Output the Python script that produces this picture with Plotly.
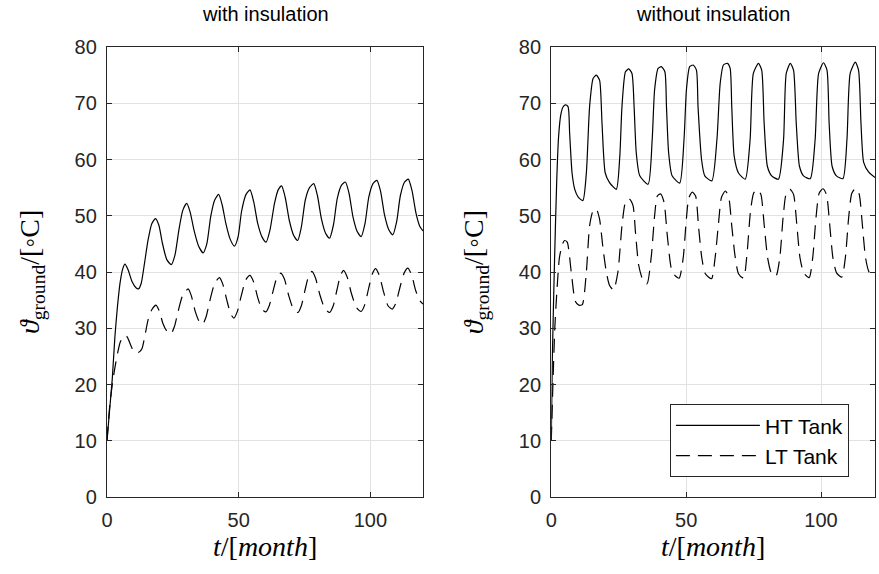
import plotly.graph_objects as go
from plotly.subplots import make_subplots

# with insulation - HT tank
t_ins_ht = [0, 1, 2, 3, 4, 5, 6, 6.8, 8, 9.5, 11, 12, 13, 14, 15.6, 17, 18.4, 19.7, 21, 22.7,
            24.4, 25.8, 27.3, 28.8, 30.3, 31.6, 33, 34.8, 36.5, 37.9, 39.4, 40.9, 42.4, 43.7, 45.1,
            46.8, 48.4, 49.8, 51.1, 52.8, 54.3, 55.7, 57.2, 58.9, 60.4, 61.9, 63.6, 65, 66.3, 67.7,
            69.2, 70.9, 72.4, 73.8, 75.3, 76.9, 78.5, 79.9, 81.4, 83, 84.5, 86, 87.4, 89, 90.5,
            91.9, 93.4, 95, 96.5, 98, 99.4, 101, 102.5, 103.9, 105.4, 107, 108.5, 110, 111.4, 113,
            114.4, 115.8, 117.3, 118.7, 120]
v_ins_ht = [10, 15.5, 21, 28.5, 34, 38.2, 40.6, 41.4, 40.4, 38.3, 37.2, 37.0, 38.0, 40.8, 45.7,
            48.6, 49.5, 48.3, 45.2, 42.2, 41.3, 43.0, 47.5, 51.0, 52.2, 50.6, 47.5, 44.6, 43.4,
            45.0, 49.9, 52.8, 53.8, 52.0, 48.7, 45.8, 44.6, 46.3, 50.8, 53.8, 54.6, 52.5, 48.7,
            46.2, 45.3, 47.5, 52.2, 54.6, 55.3, 53.2, 49.2, 46.5, 45.6, 48.0, 52.8, 55.0, 55.7,
            53.6, 49.5, 46.9, 46.0, 48.4, 53.0, 55.4, 56.0, 54.0, 49.8, 47.2, 46.3, 48.7, 53.3,
            55.7, 56.3, 54.3, 50.1, 47.5, 46.6, 49.0, 53.6, 56.0, 56.5, 54.5, 50.5, 48.2, 47.3]

# with insulation - LT tank
t_ins_lt = [0, 1, 2, 3, 4, 5, 6.3, 7.6, 9, 10.2, 11.2, 12.3, 13.3, 14.6, 15.6, 17, 18.6, 19.9,
            21.2, 22.7, 24.3, 25.6, 27, 28.7, 30.8, 32, 33.5, 35, 36.3, 37.6, 39, 40.9, 42.7, 44,
            45.5, 47, 48.2, 49.5, 51, 52.7, 54.3, 55.7, 57.2, 58.8, 60.3, 61.6, 63, 64.5, 66,
            67.4, 69, 70.8, 72.5, 73.8, 75.2, 76.5, 77.8, 79.2, 80.8, 82.7, 84.5, 85.9, 87.3,
            88.6, 89.8, 91.2, 92.8, 94.7, 96.5, 97.9, 99.3, 100.7, 102, 103.4, 105, 106.7, 108.3,
            109.7, 111.2, 112.8, 114.2, 115.6, 117.2, 118.7, 120]
v_ins_lt = [10, 16, 20, 23, 25.5, 27.5, 28.7, 28.5, 27, 25.8, 25.6, 25.8, 26.4, 29.2, 31.5, 33.3,
            34.1, 33.0, 30.9, 29.5, 29.0, 30.3, 33.0, 35.8, 37.0, 35.8, 33.0, 31.2, 30.7, 32.0,
            34.8, 38.0, 39.0, 37.8, 35.0, 32.5, 31.8, 33.0, 35.8, 38.6, 39.4, 38.2, 35.5, 33.4,
            32.9, 34.0, 36.5, 39.0, 39.8, 38.7, 35.8, 33.4, 32.8, 34.0, 36.8, 39.2, 40.1, 38.9,
            36.0, 33.5, 32.8, 34.0, 36.8, 39.3, 40.3, 39.1, 36.2, 33.7, 33.0, 34.2, 37.0, 39.6,
            40.6, 39.4, 36.5, 34.0, 33.4, 34.5, 37.2, 39.8, 40.7, 39.6, 36.7, 35.0, 34.3]

# without insulation - HT tank
t_no_ht = [0, 0.4, 1.2, 2, 2.7, 3.5, 4.3, 5.2, 6.2, 6.8, 7.7, 8.7, 10, 11.7, 13, 14.2, 15.5,
           16.7, 17.9, 18.8, 20, 21.6, 24.1, 25.4, 26.2, 27.5, 28.7, 29.9, 30.7, 31.5, 32.8,
           35.9, 37.4, 38.3, 39.6, 40.8, 42.1, 42.7, 43.5, 44.8, 47.6, 49.2, 50.1, 51.3, 52.6,
           53.8, 54.4, 55.7, 56.9, 59.5, 61.4, 62.6, 63.8, 65.3, 66.3, 66.9, 67.8, 69.4, 71.9,
           73.7, 74.9, 76.8, 78.0, 78.9, 80.1, 81.7, 84.2, 86.1, 87.1, 88.6, 89.8, 90.8, 92.0,
           93.5, 96.0, 97.8, 99.1, 100.9, 102.2, 103.0, 104.1, 105.7, 108.1, 109.6, 110.8,
           112.7, 113.9, 114.8, 115.8, 117.6, 120]
v_no_ht = [10, 25, 42, 56, 64, 67.9, 69.3, 69.7, 69.4, 64.7, 57.6, 54.7, 53.3, 52.7, 57.6, 69.4,
           74.4, 75.0, 74.1, 66.5, 57.6, 55.9, 54.7, 60.6, 69.4, 75.6, 76.1, 75.3, 69.4, 61.2,
           57.1, 55.6, 63.5, 72.4, 76.2, 76.5, 75.6, 69.4, 61.2, 57.1, 55.8, 63.5, 72.4, 76.5,
           76.8, 75.9, 69.4, 60.0, 57.1, 56.2, 63.5, 73.5, 76.8, 77.1, 76.2, 69.4, 60.6, 57.6,
           56.5, 63.5, 75.3, 77.1, 75.9, 66.5, 58.8, 57.1, 56.5, 63.5, 75.3, 77.1, 75.9, 66.5,
           58.8, 57.1, 56.6, 63.5, 75.3, 77.2, 75.9, 66.5, 58.8, 57.1, 56.6, 63.5, 75.3, 77.3,
           75.9, 66.5, 59.5, 57.8, 56.8]

# without insulation - LT tank
t_no_lt = [0, 0.6, 1.3, 2, 3, 4, 4.9, 5.9, 7.4, 8.9, 10.2, 11.5, 13, 14.2, 15.5, 16.7, 17.9,
           19.2, 20.4, 21.6, 23.1, 24.7, 26.2, 27.5, 28.9, 30.3, 31.2, 32.4, 34, 35.5, 37.1,
           38.3, 39.3, 40.5, 41.8, 43, 44.5, 45.8, 47.4, 48.9, 50, 51, 52.3, 53.5, 54.6, 55.8,
           57.1, 59.4, 60.7, 61.9, 63.1, 64.5, 65.7, 66.9, 68.1, 69.4, 71.3, 72.6, 73.8, 75,
           76.4, 77.7, 78.9, 80.2, 81.6, 83.3, 84.7, 85.9, 87.1, 88.5, 89.8, 91, 92.2, 93.6,
           95.6, 96.9, 98.1, 99.3, 100.7, 102, 103.2, 104.4, 105.8, 107.7, 109, 110.2, 111.4,
           112.8, 114.1, 115.3, 116.5, 117.9, 120]
v_no_lt = [10, 20, 30, 36, 42.5, 44.8, 45.6, 45.3, 40, 34.8, 34.1, 34.2, 40, 48.2, 50.9, 51.2,
           49.4, 44.1, 40, 37.6, 36.8, 40, 48.2, 52.4, 53.0, 51.8, 47.1, 41.2, 38.5, 37.9, 42.9,
           50, 53.5, 53.9, 52.4, 46.5, 40.6, 39.4, 38.9, 42.5, 49, 53.2, 54.2, 53.5, 48, 42.5,
           39.7, 38.8, 42.4, 48.2, 53.3, 54.4, 53.5, 48.2, 42.9, 39.7, 38.9, 43.5, 50.6, 54,
           54.7, 53.8, 48.5, 42.5, 39.8, 39.3, 42.5, 49.5, 54, 54.7, 53.8, 48.5, 42.5, 39.8,
           39.0, 42.5, 49.5, 54, 54.8, 53.8, 48.5, 42.5, 39.8, 39.1, 42.5, 49.5, 54, 54.9, 53.9,
           48.5, 42.5, 39.9, 39.4]

x_ticks = [0, 50, 100]
y_ticks = [0, 10, 20, 30, 40, 50, 60, 70, 80]
titles = ["with insulation", "without insulation"]

dark = "rgb(38,38,38)"
sans = "Liberation Sans, Arial, sans-serif"
serif = "Liberation Serif, DejaVu Serif, serif"

dom_left = [0, 0.4115]
dom_right = [0.5785, 1]

fig = make_subplots(rows=1, cols=2)

line_kw = dict(color="black", width=1.2, shape="spline", smoothing=0.6)
fig.add_trace(go.Scatter(x=t_ins_ht, y=v_ins_ht, mode="lines", line=dict(**line_kw),
                         showlegend=False), row=1, col=1)
fig.add_trace(go.Scatter(x=t_ins_lt, y=v_ins_lt, mode="lines", line=dict(dash="14px,8px", **line_kw),
                         showlegend=False), row=1, col=1)
fig.add_trace(go.Scatter(x=t_no_ht, y=v_no_ht, mode="lines", name="HT Tank",
                         line=dict(**line_kw)), row=1, col=2)
fig.add_trace(go.Scatter(x=t_no_lt, y=v_no_lt, mode="lines", name="LT Tank",
                         line=dict(dash="14px,8px", **line_kw)), row=1, col=2)

axis_common = dict(showline=True, linecolor=dark, linewidth=1.4, mirror="ticks",
                   ticks="inside", ticklen=5, tickcolor=dark, showgrid=True,
                   gridcolor="rgb(226,226,226)", gridwidth=1, zeroline=False,
                   automargin=False, ticklabelstandoff=5,
                   tickfont=dict(family=sans, size=20, color=dark))

fig.update_xaxes(range=[0, 120], tickvals=x_ticks, **axis_common)
fig.update_yaxes(range=[0, 80], tickvals=y_ticks, **axis_common)
fig.update_xaxes(domain=dom_left, row=1, col=1)
fig.update_xaxes(domain=dom_right, row=1, col=2)

fig.update_layout(
    width=879, height=574,
    margin=dict(l=107, r=4, t=47, b=77),
    plot_bgcolor="white", paper_bgcolor="white",
    legend=dict(x=0.966, y=0.044, xanchor="right", yanchor="bottom",
                bgcolor="white", bordercolor=dark, borderwidth=1,
                font=dict(family=sans, size=21, color="black"),
                itemwidth=84, tracegroupgap=0),
)

ylab = "<i>ϑ</i><sub>ground</sub>/[◦C]"
xlab = "<i>t</i>/[<i>month</i>]"
for i, (txt, dom) in enumerate(zip(titles, (dom_left, dom_right))):
    cx = (dom[0] + dom[1]) / 2
    fig.add_annotation(text=txt, xref="paper", yref="paper", x=cx, y=1.0, yshift=33,
                       xanchor="center", yanchor="middle", showarrow=False,
                       font=dict(family=sans, size=20, color="black"))
    fig.add_annotation(text=xlab, xref="paper", yref="paper", x=cx, y=-0.109,
                       xanchor="center", yanchor="middle", showarrow=False,
                       font=dict(family=serif, size=28, color="black"))
    fig.add_annotation(text=ylab, xref="paper", yref="paper",
                       x=dom[0], xshift=-76, y=0.5, textangle=-90,
                       xanchor="center", yanchor="middle", showarrow=False,
                       font=dict(family=serif, size=28, color="black"))

fig.write_html("out.html", config={"displayModeBar": False},
               post_script="document.body.style.margin='0';"
               "document.body.style.overflow='hidden';")
